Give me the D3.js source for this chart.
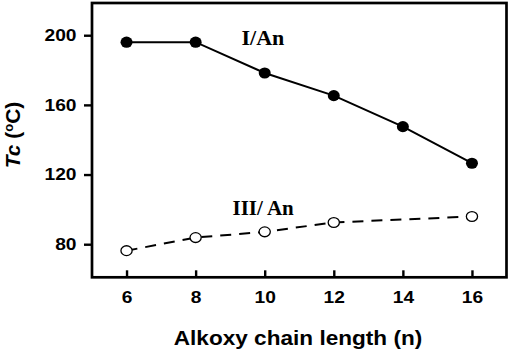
<!DOCTYPE html>
<html>
<head>
<meta charset="utf-8">
<script src="https://cdn.jsdelivr.net/npm/d3@7"></script>
<style>
  body { margin: 0; background: #fff; }
  svg { display: block; }
</style>
</head>
<body>
<div id="chart"></div>
<script>
// data
const chainLength = [6, 8, 10, 12, 14, 16];
const tcIAn = [196, 196, 178.3, 165.3, 147.5, 126.5];
const chainLengthIII = [6, 8, 10, 12, 16];
const tcIIIAn = [76.3, 83.8, 87.1, 92.5, 95.9];
const xTicks = [6, 8, 10, 12, 14, 16];
const yTicks = [80, 120, 160, 200];

const width = 510;
const height = 354;
const margin = { top: 3, right: 3.5, bottom: 76.7, left: 92 };
const stretch = 1.13; // the figure is a bit wider than tall in its glyphs

const svg = d3.select("#chart").append("svg")
  .attr("width", width)
  .attr("height", height);

const xScale = d3.scaleLinear()
  .domain([5, 17])
  .range([margin.left, width - margin.right]);

const yScale = d3.scaleLinear()
  .domain([61, 218.5])
  .range([height - margin.bottom, margin.top]);

// frame
svg.append("rect")
  .attr("x", margin.left)
  .attr("y", margin.top)
  .attr("width", width - margin.left - margin.right)
  .attr("height", height - margin.top - margin.bottom)
  .attr("fill", "none")
  .attr("stroke", "#000")
  .attr("stroke-width", 2.7);

// x axis, ticks point inward
const xAxis = svg.append("g")
  .attr("transform", "translate(0," + (height - margin.bottom) + ")")
  .call(d3.axisBottom(xScale).tickValues(xTicks).tickSizeInner(-7).tickSizeOuter(0).tickPadding(14));
xAxis.select(".domain").remove();
xAxis.selectAll("line").attr("stroke-width", 2.4);
xAxis.selectAll("text")
  .attr("font-family", "Liberation Sans, Arial, sans-serif")
  .attr("font-weight", "bold")
  .attr("font-size", 17)
  .attr("fill", "#000")
  .attr("transform", "scale(" + stretch + ",1)");

// y axis, ticks point outward
const yAxis = svg.append("g")
  .attr("transform", "translate(" + margin.left + ",0)")
  .call(d3.axisLeft(yScale).tickValues(yTicks).tickSizeInner(8).tickSizeOuter(0));
yAxis.select(".domain").remove();
yAxis.selectAll("line").attr("stroke-width", 2.4);
yAxis.selectAll("text")
  .attr("font-family", "Liberation Sans, Arial, sans-serif")
  .attr("font-weight", "bold")
  .attr("font-size", 17)
  .attr("fill", "#000")
  .attr("x", -15.5 / stretch)
  .attr("transform", "scale(" + stretch + ",1)");

// series I/An
const lineI = d3.line()
  .x(function (d, i) { return xScale(chainLength[i]); })
  .y(function (d) { return yScale(d); });

svg.append("path")
  .datum(tcIAn)
  .attr("d", lineI)
  .attr("fill", "none")
  .attr("stroke", "#000")
  .attr("stroke-width", 2);

svg.append("g")
  .selectAll("ellipse")
  .data(tcIAn)
  .enter()
  .append("ellipse")
  .attr("cx", function (d, i) { return xScale(chainLength[i]); })
  .attr("cy", function (d) { return yScale(d); })
  .attr("rx", 6)
  .attr("ry", 5.6)
  .attr("fill", "#000");

// series III/An
const lineIII = d3.line()
  .x(function (d, i) { return xScale(chainLengthIII[i]); })
  .y(function (d) { return yScale(d); });

svg.append("path")
  .datum(tcIIIAn)
  .attr("d", lineIII)
  .attr("fill", "none")
  .attr("stroke", "#000")
  .attr("stroke-width", 2)
  .attr("stroke-dasharray", "11,8");

svg.append("g")
  .selectAll("ellipse")
  .data(tcIIIAn)
  .enter()
  .append("ellipse")
  .attr("cx", function (d, i) { return xScale(chainLengthIII[i]); })
  .attr("cy", function (d) { return yScale(d); })
  .attr("rx", 5.6)
  .attr("ry", 4.9)
  .attr("fill", "#fff")
  .attr("stroke", "#000")
  .attr("stroke-width", 1.3);

// series labels
svg.append("text")
  .attr("x", 241.5)
  .attr("y", 45)
  .attr("font-family", "Liberation Serif, Times New Roman, serif")
  .attr("font-weight", "bold")
  .attr("font-size", 22)
  .text("I/An");

svg.append("text")
  .attr("x", 232.5)
  .attr("y", 215)
  .attr("font-family", "Liberation Serif, Times New Roman, serif")
  .attr("font-weight", "bold")
  .attr("font-size", 21)
  .text("III/ An");

// axis titles
svg.append("text")
  .attr("transform", "translate(298,345) scale(" + stretch + ",1)")
  .attr("text-anchor", "middle")
  .attr("font-family", "Liberation Sans, Arial, sans-serif")
  .attr("font-weight", "bold")
  .attr("font-size", 20)
  .text("Alkoxy chain length (n)");

const yTitle = svg.append("text")
  .attr("transform", "translate(20,135) rotate(-90)")
  .attr("text-anchor", "middle")
  .attr("font-family", "Liberation Sans, Arial, sans-serif")
  .attr("font-weight", "bold")
  .attr("font-size", 21);
yTitle.append("tspan").attr("font-style", "italic").text("Tc");
yTitle.append("tspan").text(" (");
yTitle.append("tspan").attr("font-size", 13).attr("dy", -7).text("o");
yTitle.append("tspan").attr("dy", 7).text("C)");
</script>
</body>
</html>
